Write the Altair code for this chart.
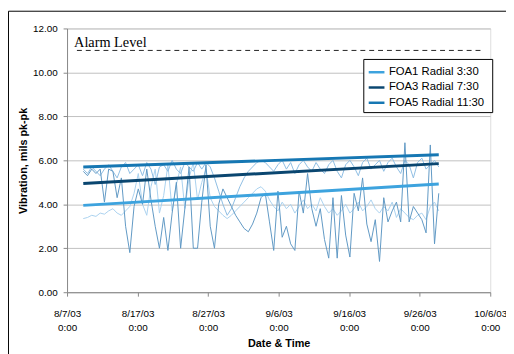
import altair as alt
import pandas as pd

# ---- data (days since 8/7/03 0:00) ----
times = [2.3, 2.9, 3.5, 4.1, 4.7, 5.3, 5.9, 6.5, 7.1, 7.7,
         8.3, 8.9, 9.5, 10.1, 10.7, 11.3, 11.9, 12.5, 13.1, 13.7,
         14.3, 14.9, 15.5, 16.1, 16.7, 17.3, 17.9, 18.5, 19.1, 19.7,
         20.3, 20.9, 21.5, 22.1, 22.7, 23.3, 23.9, 24.5, 25.1, 25.7,
         26.3, 26.9, 27.5, 28.1, 28.7, 29.3, 29.9, 30.5, 31.1, 31.7,
         32.3, 32.9, 33.5, 34.1, 34.7, 35.3, 35.9, 36.5, 37.1, 37.7,
         38.3, 38.9, 39.5, 40.1, 40.7, 41.3, 41.9, 42.5, 43.1, 43.7,
         44.3, 44.9, 45.5, 46.1, 46.7, 47.3, 47.9, 48.5, 49.1, 49.7,
         50.3, 50.9, 51.5, 52.1, 52.7]

foa1_raw = [3.35, 3.4, 3.5, 3.45, 3.6, 3.55, 3.7, 3.8, 3.6, 3.5,
            3.7, 3.9, 4.5, 5.4, 4.0, 3.5, 4.8, 5.6, 3.6, 4.4,
            5.8, 3.7, 4.9, 5.7, 3.8, 5.2, 5.9, 4.2, 5.0, 5.6,
            4.3, 3.9, 3.7, 3.5, 3.35, 3.5, 3.7, 3.9, 4.1, 4.3,
            4.5, 4.7, 4.8, 4.6, 4.2, 3.9, 3.7, 4.1, 3.8, 4.0,
            3.6, 3.9, 4.2, 3.8, 4.0, 3.7, 4.3, 3.9, 3.6, 3.8,
            3.5, 3.7, 4.0, 3.6, 3.8, 4.1, 3.7, 3.9, 4.2, 3.8,
            3.6, 3.9, 3.7, 4.1, 3.4, 3.8, 3.6, 3.4, 3.3, 3.5,
            3.6, 3.3, 3.9, 4.1, 3.7]

foa3_raw = [5.5, 5.3, 5.6, 5.4, 5.6, 4.1, 5.6, 5.5, 4.3, 5.2,
            3.0, 1.8, 3.9, 4.7, 4.0, 5.6, 4.2, 3.0, 2.0, 3.4,
            1.9, 3.6, 5.0, 2.0, 3.8, 5.7, 2.0, 2.0, 4.1, 5.8,
            3.0, 2.0, 4.0, 4.7, 4.3, 3.9, 3.5, 3.2, 2.9, 2.75,
            3.1, 3.6, 4.3, 4.5, 3.2, 1.9, 4.6, 2.5, 3.0, 2.2,
            1.9, 4.6, 3.6, 5.4, 3.8, 3.0, 3.8, 2.4, 1.55, 4.3,
            1.55, 4.4, 2.6, 1.6, 4.5, 3.7, 5.2, 3.1, 2.3, 3.3,
            1.4, 4.3, 3.2, 3.7, 4.1, 3.2, 6.8, 3.2, 3.9, 3.6,
            3.3, 2.7, 6.7, 2.2, 4.5]

foa5_raw = [5.6, 5.4, 5.7, 5.5, 5.3, 5.6, 5.8, 5.5, 5.2, 5.7,
            5.9, 5.4, 5.6, 5.8, 5.3, 5.9, 5.6, 4.9, 5.7, 5.8,
            5.5, 6.0, 5.6, 5.4, 5.9, 5.7, 5.5, 5.9, 5.6, 5.9,
            5.7, 5.2, 4.6, 4.0, 3.5, 3.8, 4.3, 4.8, 5.2, 5.5,
            5.7, 5.9, 6.0, 5.9, 5.7, 5.5, 5.8, 6.0, 5.6, 5.9,
            5.4, 5.8, 6.0, 5.7, 5.5, 5.9, 5.6, 5.4, 5.8, 6.0,
            5.5, 5.2, 5.8, 6.0, 5.7, 5.3, 5.9, 6.1, 5.6, 5.8,
            6.0, 5.5, 5.9, 6.1, 5.7, 5.4, 6.0, 5.8, 5.2, 5.9,
            6.1, 5.6, 5.8, 6.0, 5.7]

series_names = ["FOA1  Radial 3:30", "FOA3  Radial 7:30", "FOA5  Radial 11:30"]
trend_t = [2.3, 52.7]
foa1_trend = [3.95, 4.92]
foa3_trend = [4.95, 5.85]
foa5_trend = [5.70, 6.25]

alarm_level = 11.0
alarm_span = [1.4, 58.7]
alarm_label = "Alarm Level"

x_ticks = [0, 10, 20, 30, 40, 50, 60]
x_tick_dates = ["8/7/03", "8/17/03", "8/27/03", "9/6/03", "9/16/03", "9/26/03", "10/6/03"]
x_tick_time = "0:00"
y_ticks = [0, 2, 4, 6, 8, 10, 12]

colors_trend = ["#3da3de", "#0a4670", "#1677b3"]

# ---- tables ----
raw_df = pd.DataFrame({
    "t": times * 3,
    "v": foa1_raw + foa3_raw + foa5_raw,
    "s": ["r1"] * len(times) + ["r3"] * len(times) + ["r5"] * len(times),
})
trend_df = pd.DataFrame({
    "t": trend_t * 3,
    "v": foa1_trend + foa3_trend + foa5_trend,
    "series": [series_names[0]] * 2 + [series_names[1]] * 2 + [series_names[2]] * 2,
})
alarm_df = pd.DataFrame({"x": [alarm_span[0]], "x2": [alarm_span[1]], "y": [alarm_level],
                         "label": [alarm_label], "tx": [1.0]})

date_arr = "[" + ",".join("'%s'" % d for d in x_tick_dates) + "]"
label_expr = "[%s[round(datum.value/10)], '%s']" % (date_arr, x_tick_time)

FONT = "Liberation Sans"

xenc = alt.X("t:Q", scale=alt.Scale(domain=[0, 60], nice=False, zero=False),
             axis=alt.Axis(values=x_ticks, labelExpr=label_expr, title="Date & Time",
                           grid=False, labelFlush=False, labelOverlap=False,
                           labelLineHeight=14, labelPadding=13, tickSize=4,
                           titlePadding=5))
yenc = alt.Y("v:Q", scale=alt.Scale(domain=[0, 12], nice=False),
             axis=alt.Axis(values=y_ticks, format=".2f", title="Vibration, mils pk-pk",
                           grid=True, gridColor="#c0c0c0", tickSize=4, labelPadding=6,
                           titlePadding=4))

base_raw = alt.Chart(raw_df)
raw1 = base_raw.transform_filter("datum.s == 'r1'").mark_line(
    color="#a9d1ef", strokeWidth=1).encode(x=xenc, y=yenc)
raw5 = base_raw.transform_filter("datum.s == 'r5'").mark_line(
    color="#8dbde2", strokeWidth=1).encode(x=xenc, y=yenc)
raw3 = base_raw.transform_filter("datum.s == 'r3'").mark_line(
    color="#5f98c4", strokeWidth=1).encode(x=xenc, y=yenc)

trend = alt.Chart(trend_df).mark_line(strokeWidth=3).encode(
    x=xenc, y=yenc,
    color=alt.Color("series:N",
                    scale=alt.Scale(domain=series_names, range=colors_trend),
                    legend=alt.Legend(title=None, orient="none", legendX=301, legendY=31,
                                      strokeColor="black", fillColor="white",
                                      padding=4, symbolType="stroke", symbolSize=256,
                                      symbolStrokeWidth=2.5, labelFontSize=11.5,
                                      labelFont=FONT, labelColor="black",
                                      labelOffset=3, rowPadding=0.5, cornerRadius=0)),
)

alarm_rule = alt.Chart(alarm_df).mark_rule(color="#222222", strokeWidth=1,
                                           strokeDash=[5, 4]).encode(
    x=alt.X("x:Q"), x2="x2:Q", y=alt.Y("y:Q"))
alarm_text = alt.Chart(alarm_df).mark_text(align="left", baseline="alphabetic", dy=-3,
                                           font="Liberation Serif", fontSize=14.5,
                                           color="black").encode(
    x=alt.X("tx:Q"), y=alt.Y("y:Q"), text="label:N")

frame = alt.Chart(pd.DataFrame({"a": [0]})).mark_rect(
    fillOpacity=0, stroke="black", strokeWidth=1).encode(
    x=alt.value(-59.5), x2=alt.value(700), y=alt.value(-17.5), y2=alt.value(700))

chart = alt.layer(raw1, raw5, raw3, trend, alarm_rule, alarm_text, frame).properties(
    width=430, height=268,
    autosize=alt.AutoSizeParams(type="none"),
    padding={"left": 60, "top": 18, "right": 16, "bottom": 60},
).configure_view(stroke="#b8b8b8").configure_axis(
    labelFont=FONT, labelFontSize=11, labelColor="black",
    titleFont=FONT, titleFontSize=11.5, titleFontWeight="bold", titleColor="black",
    domainColor="black", tickColor="black",
).configure(background="white")

chart.save("out.html", embed_options={"renderer": "svg", "actions": False})
